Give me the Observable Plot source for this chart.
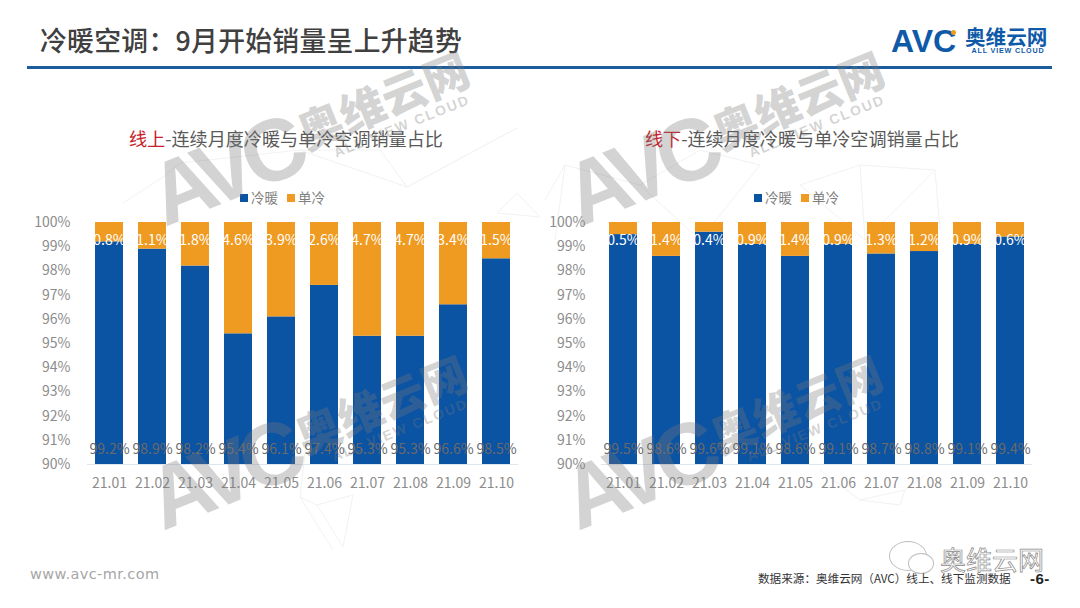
<!DOCTYPE html>
<html lang="zh">
<head>
<meta charset="utf-8">
<script src="https://cdn.jsdelivr.net/npm/d3@7"></script>
<script src="https://cdn.jsdelivr.net/npm/@observablehq/plot@0.6"></script>
<style>
html,body{margin:0;padding:0;background:#fff;width:1080px;height:608px;overflow:hidden;font-family:"Noto Sans CJK SC","Noto Sans",sans-serif}
.abs{position:absolute;white-space:nowrap}
.plot{position:absolute;top:200px}
.plot svg{background:transparent;display:block}
.wm{position:absolute;width:0;height:0;transform-origin:0 0;transform:rotate(-22deg);color:rgba(120,120,120,.33);z-index:5;pointer-events:none}
.wm span{position:absolute;white-space:nowrap}
.lg{position:absolute;top:187px;font-size:13.5px;color:#7f7f7f;white-space:nowrap;line-height:20px}
.lg i{display:inline-block;width:8px;height:8px;margin:0 3px 2px 0;vertical-align:middle}
.bub{position:absolute;border:1px solid #bdbdbd;border-radius:50%;background:#fff}
#mesh{position:absolute;left:0;top:0}
</style>
</head>
<body>
<svg id="mesh" width="1080" height="608" fill="none" stroke="#f2f2f2" stroke-width="1">
  <path d="M123 203L163 177L180 163L300 150L407 187L517 128L407 187L380 150L300 150"/>
  <path d="M497 213L517 193L540 217M497 213L540 217"/>
  <path d="M300 497L317 505L353 495L343 547L317 505M317 350L300 497L333 550"/>
  <path d="M545 200L565 165L640 185L700 150L760 165L700 240L640 185M565 165L555 240"/>
  <path d="M800 185L860 165L935 170L865 240L800 185M860 165L865 240M935 170L940 230"/>
  <path d="M820 470L860 500L905 490L925 475M860 500L900 505L905 490"/>
</svg>
<script>
const months = ["21.01","21.02","21.03","21.04","21.05","21.06","21.07","21.08","21.09","21.10"];
const onlineHeat = [99.2,98.9,98.2,95.4,96.1,97.4,95.3,95.3,96.6,98.5];
const onlineCool = [0.8,1.1,1.8,4.6,3.9,2.6,4.7,4.7,3.4,1.5];
const offlineHeat = [99.5,98.6,99.6,99.1,98.6,99.1,98.7,98.8,99.1,99.4];
const offlineCool = [0.5,1.4,0.4,0.9,1.4,0.9,1.3,1.2,0.9,0.6];
const yTicks = [90,91,92,93,94,95,96,97,98,99,100];
const BLUE = "#0b53a3", ORANGE = "#ef9a21";

function el(cls, css, html){
  const d = document.createElement("div");
  d.className = cls; d.style.cssText = css; d.innerHTML = html;
  document.body.appendChild(d); return d;
}

function panel(left, heat, cool, marginLeft, tickPad){
  const rows = months.map((m,i)=>({m, heat:heat[i], cool:cool[i]}));
  const svg = Plot.plot({
    width:540, height:300,
    marginTop:22, marginBottom:36, marginLeft, marginRight:540-marginLeft-431,
    style:{background:"transparent",fontFamily:'"Noto Sans CJK SC","Noto Sans",sans-serif',fontSize:"14px",color:"#8c8c8c"},
    x:{domain:months,paddingInner:0.34,paddingOuter:0.17,label:null},
    y:{domain:[90,100],label:null},
    marks:[
      Plot.barY(rows,{x:"m",y1:90,y2:"heat",fill:BLUE}),
      Plot.barY(rows,{x:"m",y1:"heat",y2:100,fill:ORANGE}),
      Plot.ruleY([90],{stroke:"#dfe6ee"}),
      Plot.text(rows,{x:"m",y:99.25,text:d=>d.cool.toFixed(1)+"%",fill:"#fff",fontSize:14}),
      Plot.text(rows,{x:"m",y:90.6,text:d=>d.heat.toFixed(1)+"%",fill:"#6a6a6a",fontSize:14}),
      Plot.axisX({tickSize:0,tickPadding:14,fill:"#8c8c8c",fontSize:14,label:null}),
      Plot.axisY({ticks:yTicks,tickSize:0,tickPadding:tickPad,tickFormat:d=>d+"%",fill:"#8c8c8c",fontSize:14,label:null})
    ]
  });
  const host = document.createElement("div");
  host.className = "plot"; host.style.left = left+"px";
  host.appendChild(svg); document.body.appendChild(host);
}

// header
el("abs","left:40px;top:21px;font-size:26.8px;line-height:38px;color:#404040;font-weight:500;letter-spacing:.3px","冷暖空调：9月开始销量呈上升趋势");
el("abs","left:27px;top:66px;width:1025px;height:3px;background:#1c5c9c","");
el("abs","left:891px;top:25px;font:bold 32px/32px 'Liberation Sans';color:#0f5aa8","AVC");
el("abs","left:951px;top:30px;width:5px;height:5px;border-radius:50%;background:#ef9a21","");
el("abs","left:965px;top:27px;font-size:20.6px;line-height:18px;font-weight:700;color:#0f5aa8","奥维云网");
el("abs","left:966px;top:46px;width:84px;text-align:center;font:bold 7.2px/9px 'Liberation Sans';color:#0f5aa8;letter-spacing:.8px","ALL VIEW CLOUD");

// chart titles
el("abs","left:129px;top:124px;font-size:18.1px;line-height:28px;color:#595959",'<span style="color:#c8202a">线上</span>-连续月度冷暖与单冷空调销量占比');
el("abs","left:645px;top:124px;font-size:18.1px;line-height:28px;color:#595959",'<span style="color:#c8202a">线下</span>-连续月度冷暖与单冷空调销量占比');

// legends
for (const x of [240,754]) {
  el("lg","left:"+x+"px",'<i style="background:'+BLUE+'"></i>冷暖');
  el("lg","left:"+(x+47)+"px",'<i style="background:'+ORANGE+'"></i>单冷');
}

panel(0, onlineHeat, onlineCool, 87, 17);
panel(540, offlineHeat, offlineCool, 61, 16);

// watermarks
for (const [x,y] of [[165,228],[580,228],[163,532],[578,532]]) {
  el("wm","left:"+x+"px;top:"+y+"px",
    '<span style="left:0;top:-75px;font:bold 88px/88px \'Liberation Sans\';letter-spacing:-9px">AVC</span>'+
    '<span style="left:160px;top:-61px;font-size:45px;line-height:45px;font-weight:900">奥维云网</span>'+
    '<span style="left:185px;top:-13px;font:bold 14px/15px \'Liberation Sans\';letter-spacing:1.8px">ALL VIEW CLOUD</span>');
}

// footer
el("abs","left:30px;top:564px;font:14.5px/20px 'DejaVu Sans';color:#a6a6a6;letter-spacing:.4px","www.avc-mr.com");
el("bub","left:889px;top:541px;width:36px;height:28px","");
el("bub","left:908px;top:553px;width:24px;height:19px","");
el("abs","left:940px;top:546px;font-size:26px;line-height:26px;color:#fff;-webkit-text-stroke:.7px #8a8a8a","奥维云网");
el("abs","left:758px;top:572px;font-size:11.6px;line-height:13px;color:#333","数据来源：奥维云网（AVC）线上、线下监测数据");
el("abs","left:1030px;top:572px;font:bold 15px/14px 'Liberation Sans';color:#222;letter-spacing:.5px","-6-");
</script>
</body>
</html>
